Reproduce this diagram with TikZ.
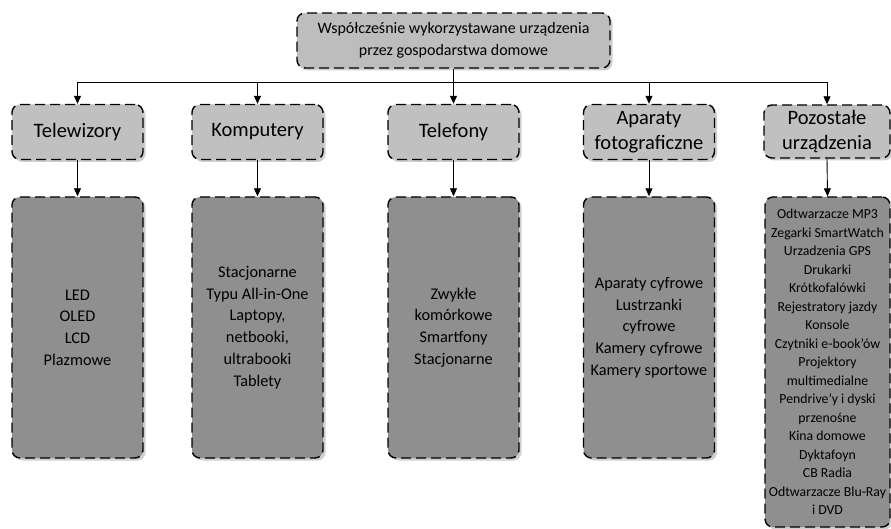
\documentclass[tikz,border=0pt]{standalone}
\usepackage{fontspec}
\setmainfont{Carlito}
\usetikzlibrary{arrows.meta,shadows}
\definecolor{topgray}{HTML}{BDBDBD}
\definecolor{catgray}{HTML}{C0C0C0}
\definecolor{listgray}{HTML}{8F8F8F}
\definecolor{shadowgray}{HTML}{CFCFCF}
\begin{document}
\begin{tikzpicture}[x=1pt,y=-1pt,
  box/.style={draw, line width=1.4pt, dash pattern=on 10pt off 5pt, rounded corners=8pt,
    inner sep=0pt, align=center,
    drop shadow={shadow xshift=2.5pt, shadow yshift=-2.5pt, fill=shadowgray, opacity=1}},
  topbox/.style={box, fill=topgray, minimum width=313pt, minimum height=55pt,
    font=\fontsize{16}{21.7}\selectfont},
  catbox/.style={box, fill=catgray, minimum width=131pt, minimum height=55pt,
    font=\fontsize{20.5}{25}\selectfont},
  listbox/.style={box, fill=listgray, minimum width=131pt, minimum height=261pt,
    font=\fontsize{16.3}{21.7}\selectfont},
  plainline/.style={line width=0.9pt},
  conn/.style={line width=0.9pt, -{Triangle[length=8pt,width=7pt]}}]
\useasboundingbox (0,0) rectangle (891,529);

\node[topbox] (top) at (453.5,40.5) {Współcześnie wykorzystawane urządzenia\\przez gospodarstwa domowe};

\node[catbox] (c1) at (77.5,132) {Telewizory};
\node[catbox] (c2) at (257.5,132) {Komputery};
\node[catbox] (c3) at (453.5,132) {Telefony};
\node[catbox] (c4) at (649,132) {Aparaty\\fotograficzne};
\node[catbox, minimum width=126pt, minimum height=53pt] (c5) at (827,131.5) {Pozostałe\\urządzenia};

\node[listbox] (l1) at (77.5,327.5) {LED\\OLED\\LCD\\Plazmowe};
\node[listbox] (l2) at (257.5,327.5) {Stacjonarne\\Typu All-in-One\\Laptopy,\\netbooki,\\ultrabooki\\Tablety};
\node[listbox] (l3) at (453.5,327.5) {Zwykłe\\komórkowe\\Smartfony\\Stacjonarne};
\node[listbox] (l4) at (649,327.5) {Aparaty cyfrowe\\Lustrzanki\\cyfrowe\\Kamery cyfrowe\\Kamery sportowe};
\node[listbox, minimum width=125pt, minimum height=330pt, font=\fontsize{13.8}{18.5}\selectfont] (l5) at (827.5,362)
  {Odtwarzacze MP3\\Zegarki SmartWatch\\Urzadzenia GPS\\Drukarki\\Krótkofalówki\\Rejestratory jazdy\\Konsole\\Czytniki e-book’ów\\Projektory\\multimedialne\\Pendrive’y i dyski\\przenośne\\Kina domowe\\Dyktafoyn\\CB Radia\\Odtwarzacze Blu-Ray\\i DVD};

\coordinate (bar) at (0,82);
\draw[plainline] (c1.north |- bar) -- (c5.north |- bar);
\draw[conn] (top.south) -- (c3.north);
\foreach \i in {1,2,4,5} \draw[conn] (c\i.north |- bar) -- (c\i.north);
\foreach \i in {1,...,5} \draw[conn] (c\i.south) -- (l\i.north);
\end{tikzpicture}
\end{document}
